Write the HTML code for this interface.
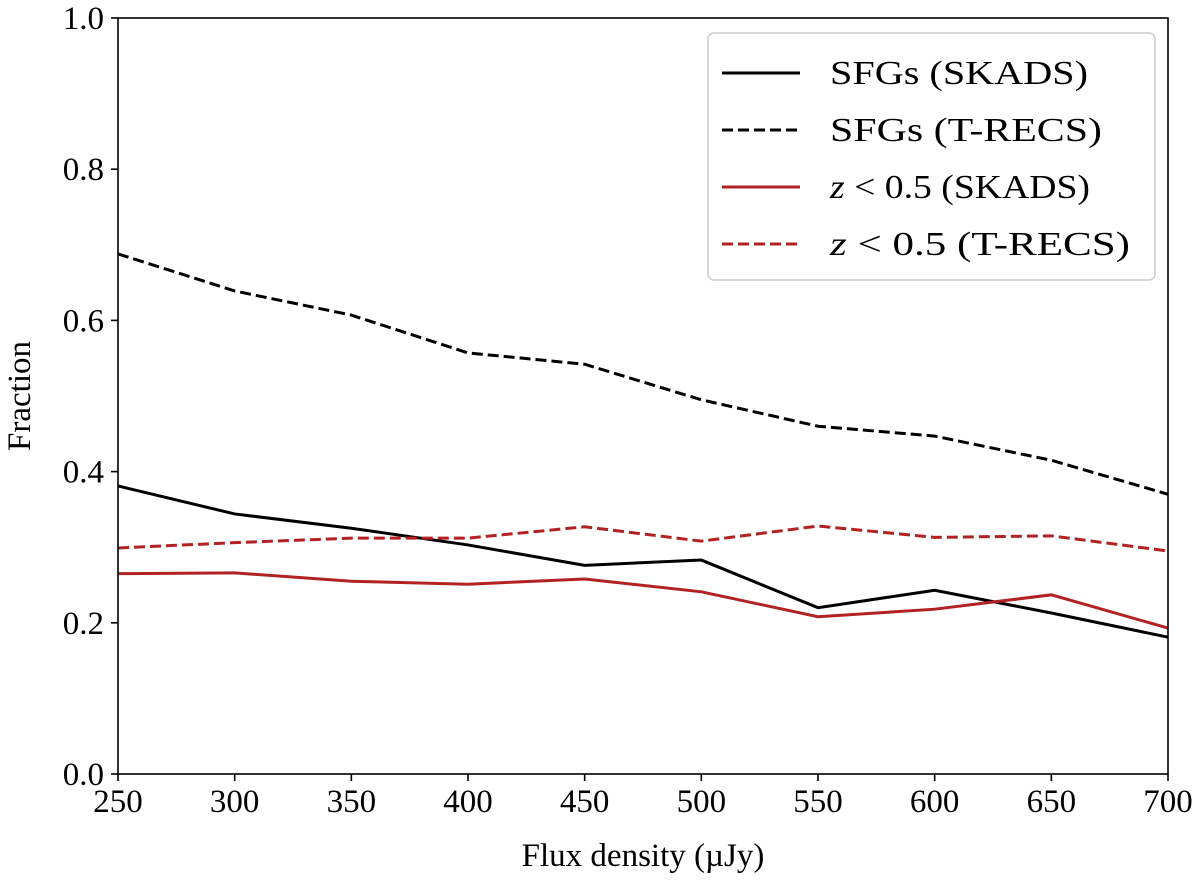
<!DOCTYPE html>
<html><head><meta charset="utf-8"><style>
html,body{margin:0;padding:0;background:#fff;}
svg{display:block;font-family:"Liberation Serif","DejaVu Serif",serif;}
</style></head><body>
<svg id="chart" width="1200" height="883" viewBox="0 0 1200 883"></svg>
<script>
const xValues = [250,300,350,400,450,500,550,600,650,700];
const sfgSkads = [0.381,0.344,0.325,0.303,0.276,0.283,0.220,0.243,0.213,0.181];
const sfgTrecs = [0.688,0.639,0.607,0.557,0.542,0.495,0.460,0.447,0.415,0.370];
const zSkads = [0.265,0.266,0.255,0.251,0.258,0.241,0.208,0.218,0.237,0.193];
const zTrecs = [0.299,0.306,0.312,0.312,0.327,0.308,0.328,0.313,0.315,0.295];
const xTicks = [250,300,350,400,450,500,550,600,650,700];
const yTicks = [0.0,0.2,0.4,0.6,0.8,1.0];

const NS="http://www.w3.org/2000/svg";
const svg=document.getElementById('chart');
const L=118,R=1168,T=18,B=774;
const xs=v=>L+(v-250)/(700-250)*(R-L);
const ys=v=>B-v*(B-T);
function mk(tag,attrs,parent){const e=document.createElementNS(NS,tag);for(const k in attrs)e.setAttribute(k,attrs[k]);(parent||svg).appendChild(e);return e;}

const clip=mk('clipPath',{id:'pc'},mk('defs',{}));
mk('rect',{x:L,y:T,width:R-L,height:B-T},clip);

function series(vals,color,dash,name){
  const p=mk('polyline',{points:vals.map((v,i)=>xs(xValues[i])+','+ys(v)).join(' '),fill:'none',stroke:color,'stroke-width':3,'stroke-dasharray':dash||'none','clip-path':'url(#pc)'});
  
  
}
series(sfgTrecs,'#000','11,5','line-sfgs-trecs');
series(sfgSkads,'#000','','line-sfgs-skads');
series(zTrecs,'#b22222','11,5','line-z-trecs');
series(zSkads,'#b22222','','line-z-skads');

const frame=mk('rect',{x:L,y:T,width:R-L,height:B-T,fill:'none',stroke:'#000','stroke-width':1.6});



xTicks.forEach(t=>{
  mk('line',{x1:xs(t),x2:xs(t),y1:B,y2:B+7,stroke:'#000','stroke-width':1.6});
  const tx=mk('text',{x:xs(t),y:B+38,'font-size':33,'text-anchor':'middle'});
  tx.textContent=t;
  
  
});
yTicks.forEach(t=>{
  mk('line',{x1:L-7,x2:L,y1:ys(t),y2:ys(t),stroke:'#000','stroke-width':1.6});
  const tx=mk('text',{x:L-14,y:ys(t)+11,'font-size':33,'text-anchor':'end'});
  tx.textContent=t.toFixed(1);
  
  
});

const xt=mk('text',{x:(L+R)/2,y:866,'font-size':33,'text-anchor':'middle'});
xt.textContent='Flux density (µJy)';


const yt=mk('text',{x:0,y:0,'font-size':33,'text-anchor':'middle',transform:'translate(30,'+((T+B)/2)+') rotate(-90)'});
yt.textContent='Fraction';



const lg=mk('g',{});


mk('rect',{x:708,y:33,width:447,height:247,rx:6,fill:'#fff',stroke:'#ccc','stroke-width':1.5},lg);
const entries=[['SFGs (SKADS)','#000','',false],['SFGs (T-RECS)','#000','11,5',false],['(SKADS)','#b22222','',true],['(T-RECS)','#b22222','11,5',true]];
entries.forEach((e,i)=>{
  const y=73+i*57;
  const g=mk('g',{},lg);
  
  
  mk('line',{x1:722,x2:800,y1:y,y2:y,stroke:e[1],'stroke-width':3,'stroke-dasharray':e[2]||'none'},g);
  const t=mk('text',{x:830,y:y+11,'font-size':34,textLength:e[3]?(e[0]==='(SKADS)'?260:300):(e[0]==='SFGs (SKADS)'?258:272),lengthAdjust:'spacingAndGlyphs'},g);
  if(e[3]){
    const a=mk('tspan',{'font-style':'italic'},t);a.textContent='z';
    const b=mk('tspan',{},t);b.textContent=' < 0.5 '+e[0];
  } else t.textContent=e[0];
});
</script>
</body></html>
